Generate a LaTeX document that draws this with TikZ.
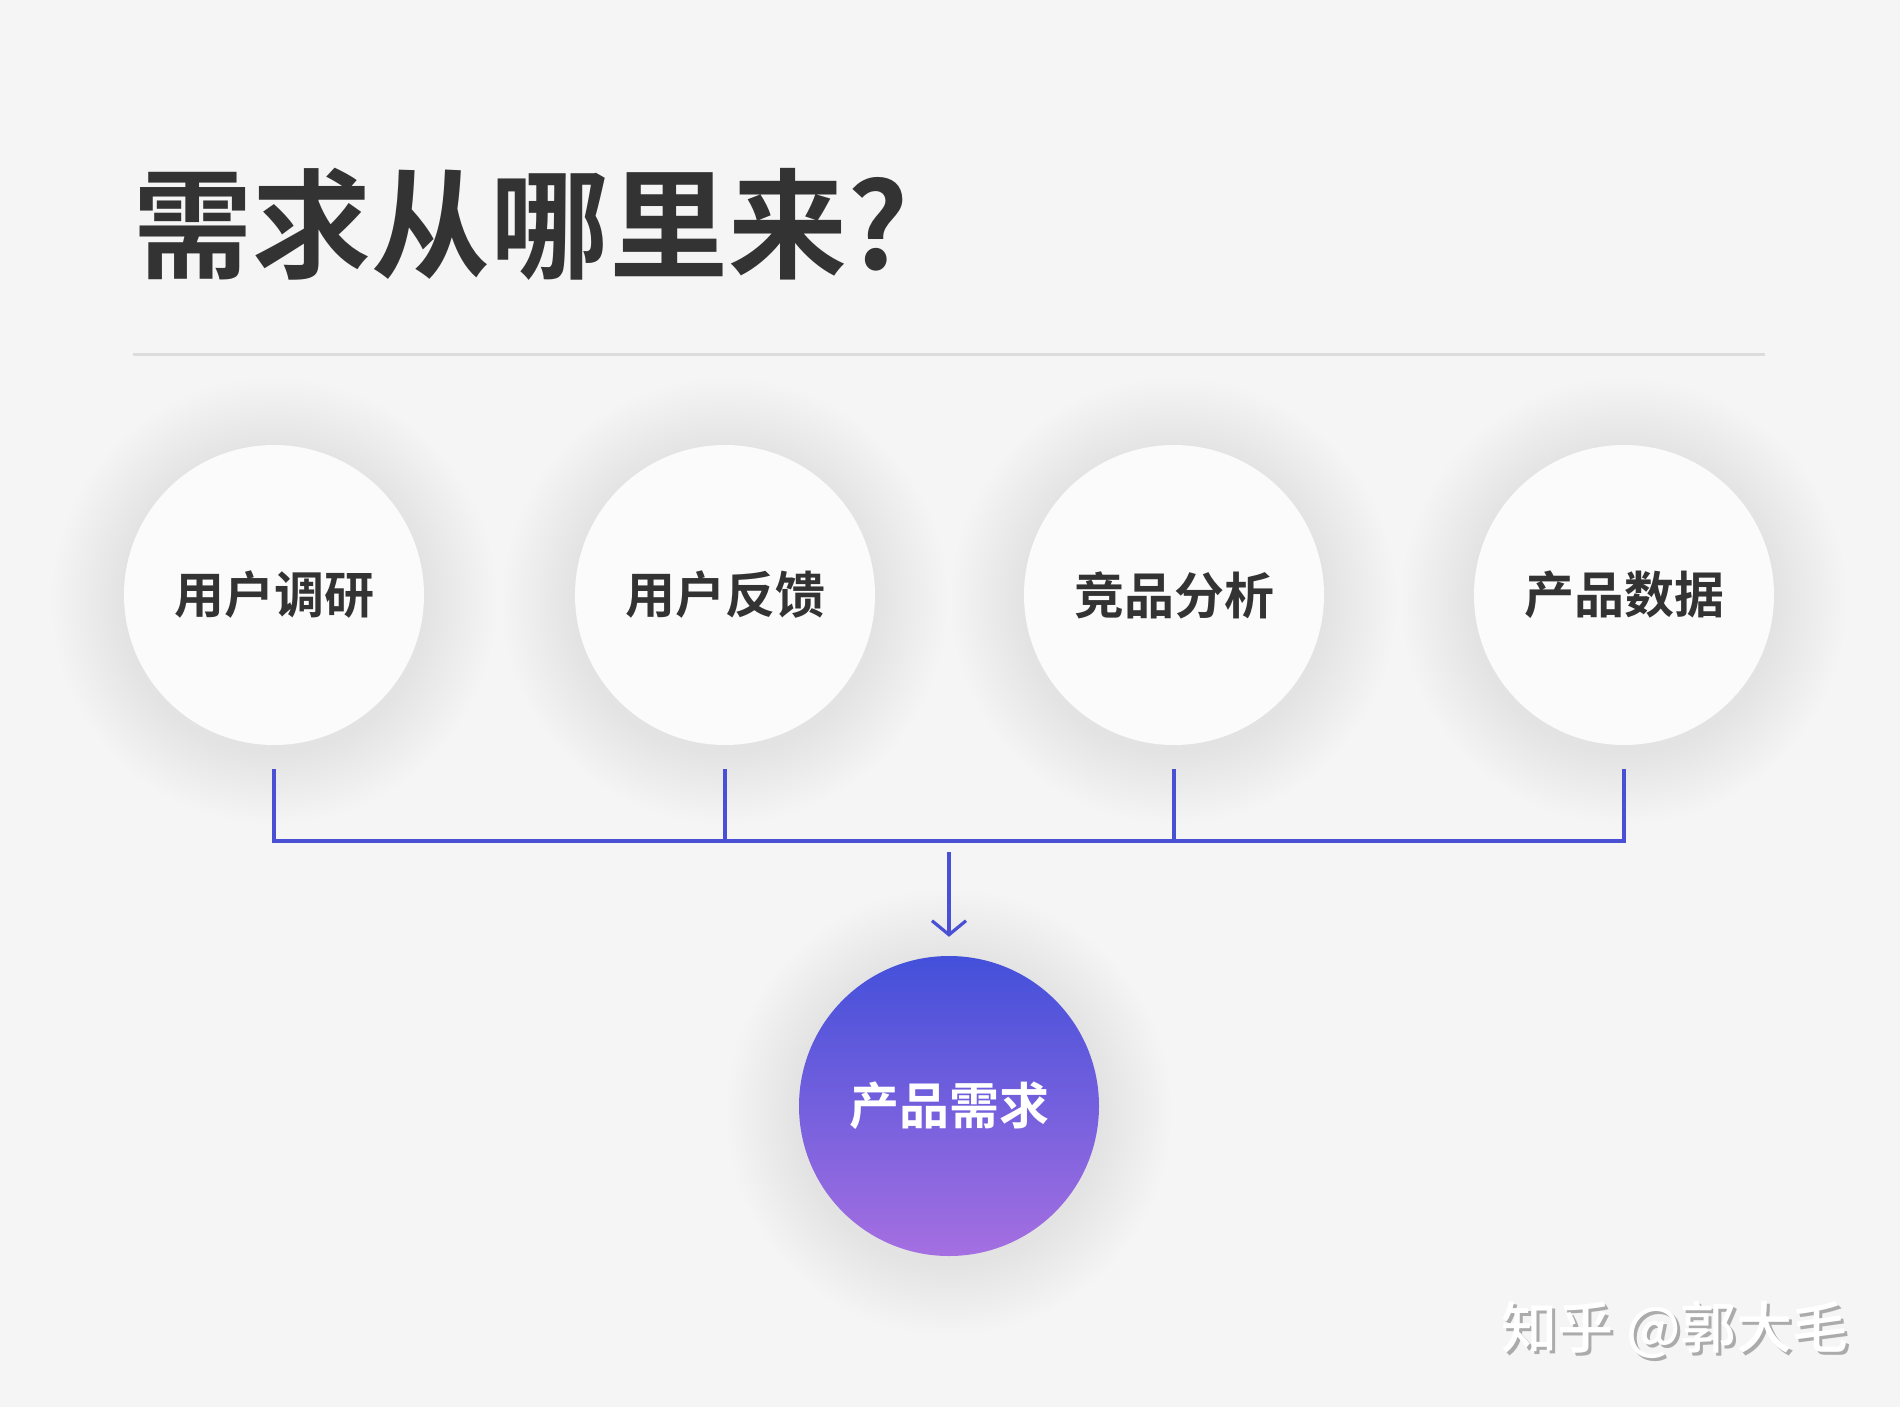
\documentclass[tikz,border=0pt]{standalone}
\usepackage{fontspec}
\newfontfamily\cjk{Noto Sans CJK SC}
\newfontfamily\cjkm{Noto Sans CJK SC}[UprightFont={* Medium}, BoldFont={* Bold}]
\usetikzlibrary{arrows.meta}
\definecolor{bgc}{HTML}{F5F5F5}
\definecolor{circc}{HTML}{FBFBFB}
\definecolor{txtc}{HTML}{333333}
\definecolor{linec}{HTML}{4A50D4}
\definecolor{sepc}{HTML}{DCDCDC}
\definecolor{gradtop}{HTML}{4350DA}
\definecolor{gradbot}{HTML}{A56FE1}
\definecolor{wmshadow}{HTML}{ABABAB}
\begin{document}
\begin{tikzpicture}[x=1pt,y=-1pt,
  src/.style={circle, minimum size=300pt, inner sep=0pt, fill=circc, text=txtc, font=\cjkm\bfseries\fontsize{50}{56}\selectfont},
  dest/.style={circle, minimum size=300pt, inner sep=0pt, top color=gradtop, bottom color=gradbot, text=white, font=\cjkm\bfseries\fontsize{50}{56}\selectfont},
  conn/.style={draw=linec, line width=3.5pt},
  halolayer/.style={fill=black, fill opacity=0.0025}
]
\fill[bgc] (0,0) rectangle (1900,1407);
\useasboundingbox (0,0) rectangle (1900,1407);
% title
\node[anchor=west, inner sep=0pt, text=txtc, font=\cjkm\bfseries\fontsize{119}{130}\selectfont] (title) at (133,224) {需求从哪里来?};
% separator
\coordinate (sepL) at (133,354);
\coordinate (sepR) at (1765,354);
\draw[sepc, line width=3pt] (sepL) -- (sepR);
% soft halos
\foreach \x in {274,725,1174,1624} {
  \foreach \i in {1,...,18} {
    \fill[halolayer] (\x,601) circle[radius={150+\i*4}];
  }
}
\foreach \i in {1,...,18} {
  \fill[halolayer] (949,1112) circle[radius={150+\i*4}];
}
% source circles
\node[src] (c1) at (274,595) {用户调研};
\node[src] (c2) at (725,595) {用户反馈};
\node[src] (c3) at (1174,595) {竞品分析};
\node[src] (c4) at (1624,595) {产品数据};
% destination
\node[dest] (p) at (949,1106) {产品需求};
% connectors
\coordinate (j1) at (274,841);
\coordinate (j2) at (725,841);
\coordinate (j3) at (1174,841);
\coordinate (j4) at (1624,841);
\coordinate (m) at (949,841);
\draw[conn, shorten <=24pt, shorten >=24pt] (c1.south) -- (j1) -- (j4) -- (c4.south);
\draw[conn, shorten <=24pt] (c2.south) -- (j2);
\draw[conn, shorten <=24pt] (c3.south) -- (j3);
\draw[conn, line width=3.2pt, -{Straight Barb[length=14pt, width=34pt]}, shorten <=11pt, shorten >=19pt] (m) -- (p.north);
% watermark
\node[text=wmshadow, font=\cjkm\fontsize{56}{62}\selectfont, inner sep=0pt] (wms) at (1678,1333) {知乎 @郭大毛};
\node[text=white, font=\cjkm\fontsize{56}{62}\selectfont, inner sep=0pt] (wm) at (1675,1330) {知乎 @郭大毛};
\end{tikzpicture}
\end{document}
